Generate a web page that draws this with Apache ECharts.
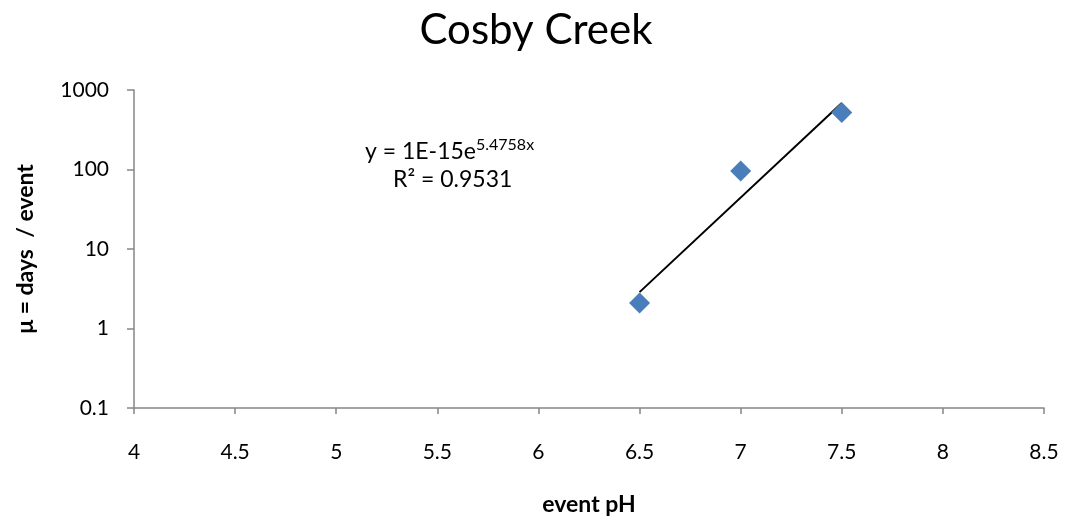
<!DOCTYPE html>
<html>
<head>
<meta charset="utf-8">
<script src="https://cdn.jsdelivr.net/npm/echarts@6/dist/echarts.min.js"></script>
<style>
  html, body { margin: 0; padding: 0; background: #fff; }
  #chart { width: 1066px; height: 525px; }
</style>
</head>
<body>
<div id="chart"></div>
<script>
// Cosby Creek: mean days per event against event pH
const phValues = [6.5, 7.0, 7.5];
const daysPerEvent = [2.1, 96, 520];

// Exponential fit y = a * e^(b x), drawn over the observed pH span
const fitA = 1e-15;
const fitB = 5.4758;
const fitR2 = 0.9531;
const fitRange = [6.5, 7.5];

const xTicks = { min: 4, max: 8.5, interval: 0.5 };
const yTicks = { min: 0.1, max: 1000 };

const font = 'Lato, "Open Sans", "DejaVu Sans", sans-serif';
const axisGrey = '#868686';

const fitLine = fitRange.map(x => [x, fitA * Math.exp(fitB * x)]);

const chart = echarts.init(document.getElementById('chart'), null, { renderer: 'canvas' });
chart.setOption({
  animation: false,
  backgroundColor: '#ffffff',
  title: {
    text: 'Cosby Creek',
    top: 4,
    left: 531,
    textAlign: 'center',
    textStyle: { fontFamily: font, fontSize: 42, fontWeight: 'normal', color: '#000' }
  },
  grid: { left: 134, right: 22, top: 90, bottom: 117 },
  xAxis: {
    type: 'value',
    min: xTicks.min,
    max: xTicks.max,
    interval: xTicks.interval,
    name: 'event pH',
    nameLocation: 'middle',
    nameGap: 85,
    nameTextStyle: { fontFamily: font, fontSize: 23, fontWeight: 'bold', color: '#000' },
    axisLine: { lineStyle: { color: axisGrey, width: 1.5 } },
    axisTick: { show: true, inside: false, length: 6, lineStyle: { color: axisGrey, width: 1.5 } },
    axisLabel: { fontFamily: font, fontSize: 21, color: '#000', margin: 34 },
    splitLine: { show: false }
  },
  yAxis: {
    type: 'log',
    logBase: 10,
    min: yTicks.min,
    max: yTicks.max,
    name: 'μ = days  / event',
    nameLocation: 'middle',
    nameGap: 97,
    nameRotate: 90,
    nameTextStyle: { fontFamily: font, fontSize: 23, fontWeight: 'bold', color: '#000' },
    axisLine: { show: true, lineStyle: { color: axisGrey, width: 1.5 } },
    axisTick: { show: true, inside: false, length: 7, lineStyle: { color: axisGrey, width: 1.5 } },
    axisLabel: {
      fontFamily: font, fontSize: 21, color: '#000', margin: 25,
      formatter: v => (v < 1 ? v.toFixed(1) : String(Math.round(v)))
    },
    splitLine: { show: false }
  },
  series: [
    {
      name: 'fit',
      type: 'line',
      data: fitLine,
      showSymbol: false,
      symbol: 'none',
      lineStyle: { color: '#000', width: 2 },
      z: 2
    },
    {
      name: 'days per event',
      type: 'scatter',
      data: phValues.map((x, i) => [x, daysPerEvent[i]]),
      symbol: 'diamond',
      symbolSize: 21,
      itemStyle: { color: '#4a7ebb', opacity: 1 },
      z: 3
    }
  ],
  graphic: [
    {
      type: 'text',
      x: 365,
      y: 150,
      style: {
        text: '{b|y = 1E-15e}{s|5.4758x}',
        verticalAlign: 'middle',
        rich: {
          b: { fontFamily: font, fontSize: 23, fill: '#000', verticalAlign: 'bottom' },
          s: { fontFamily: font, fontSize: 16, fill: '#000', verticalAlign: 'top', padding: [0, 0, 10, 0] }
        }
      }
    },
    {
      type: 'text',
      x: 393,
      y: 180,
      style: {
        text: 'R² = ' + fitR2.toFixed(4),
        verticalAlign: 'middle',
        fontFamily: font,
        fontSize: 23,
        fill: '#000'
      }
    }
  ]
});
</script>
</body>
</html>
